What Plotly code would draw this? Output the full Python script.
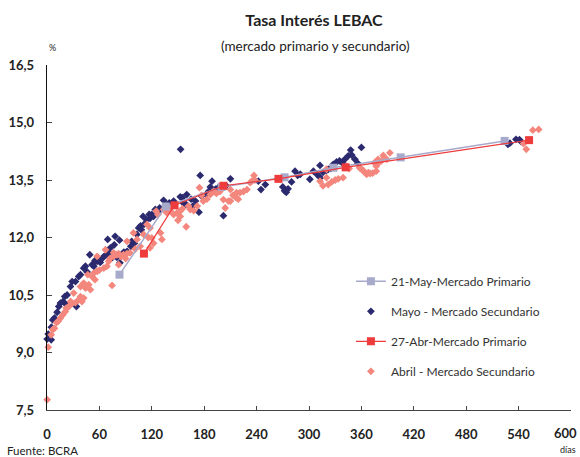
import plotly.graph_objects as go

# ---- Data ----
may_prim_days = [83, 136, 200, 272, 328, 405, 524]
may_prim_rate = [11.03, 12.81, 13.32, 13.57, 13.82, 14.09, 14.52]

abr_prim_days = [111, 146, 202, 265, 342, 552]
abr_prim_rate = [11.58, 12.84, 13.35, 13.53, 13.83, 14.54]

may_sec_days = [0.2, 1.4, 4.8, 5, 6.6, 8.6, 11.6, 13.5, 15.4, 18.5, 20.3, 22, 23, 26.9, 28.8,
                32.6, 33.7, 36.3, 38.3, 42, 44, 46, 49, 51.6, 53.6, 55, 57.4, 61, 63, 65, 68,
                69.5, 70.7, 72.6, 75, 77, 78, 80, 83, 83.5, 86, 88, 91.7, 96, 97, 100, 103,
                105, 107, 108, 110, 111, 114, 117, 118, 120, 122, 124, 127, 129, 133.5, 135.5,
                137.5, 140, 145, 152.6, 153, 155, 156, 159.4, 160, 165, 167, 170, 174, 175.4,
                177, 182, 185, 187, 189, 193, 196, 200, 202, 205, 210, 242, 245, 250, 270, 272,
                274, 276, 280, 284, 287, 290, 301, 305, 309, 312.6, 313, 316, 320, 322, 325,
                327.8, 331.6, 335, 338, 341, 345, 347.7, 349, 352.6, 356, 360, 377, 527.8,
                530, 537, 541, 543]
may_sec_rate = [9.35, 9.48, 9.33, 9.66, 9.85, 9.90, 10.05, 10.20, 10.29, 10.33, 10.46, 10.25,
                10.50, 10.72, 10.85, 10.85, 10.20, 10.98, 11.03, 11.20, 11.25, 11.10, 11.55,
                11.29, 11.25, 11.40, 11.38, 11.35, 11.45, 11.50, 11.55, 11.95, 11.60, 11.73,
                11.48, 11.81, 12.03, 11.48, 11.93, 11.34, 11.55, 11.62, 11.64, 11.77, 11.90,
                11.85, 12.08, 12.25, 12.30, 12.20, 12.55, 12.34, 12.46, 12.60, 12.50, 12.60,
                12.55, 12.73, 12.68, 12.77, 12.97, 12.82, 12.86, 12.90, 12.95, 13.06, 14.30,
                13.04, 12.90, 12.86, 13.12, 13.00, 12.82, 12.95, 12.66, 13.62, 13.08, 13.12,
                13.20, 13.32, 13.47, 13.26, 13.30, 13.32, 12.57, 13.35, 13.53, 13.47, 13.25,
                13.38, 13.32, 13.22, 13.18, 13.27, 13.45, 13.73, 13.62, 13.65, 13.52, 13.73,
                13.65, 13.88, 13.56, 13.70, 13.75, 13.78, 13.80, 13.91, 13.97, 14.00, 13.95,
                14.04, 14.13, 14.28, 14.15, 14.04, 13.93, 14.35, 13.93, 14.43, 14.46, 14.56,
                14.55, 14.50]

abr_sec_days = [0.2, 1.4, 4.8, 6.6, 8.6, 11, 13, 15.4, 18, 21, 22, 25, 27, 29, 30.6, 32.6, 36,
                38.3, 38.3, 40, 42, 42, 44, 46.7, 47.8, 49.7, 51.6, 53.5, 55, 57.4, 57.4, 60,
                65, 67, 68.6, 70.7, 72, 74.5, 76.3, 76.3, 80, 82, 82, 85, 87.6, 90, 91.6, 91.6,
                95, 99, 101, 103, 106.7, 110.6, 114.5, 116, 118, 118, 120, 122, 125, 127, 130,
                131.6, 133.5, 137, 141, 145, 148.8, 150, 152, 152.6, 155, 159.4, 162, 164, 168,
                172, 174.6, 177, 179, 183, 187, 190.6, 194, 198, 202, 204, 207.8, 210, 210, 213,
                216.6, 217, 219, 221, 225, 229, 232.6, 234.5, 237, 238, 312.6, 316, 320, 320,
                322, 326, 330, 333.5, 339, 343, 346, 358, 360, 362, 364, 366, 368, 370, 373,
                375, 377, 377, 379, 379, 383, 385, 389, 392.6, 545.7, 548.8, 556.3, 563]
abr_sec_rate = [7.77, 9.14, 9.46, 9.60, 9.63, 9.78, 9.82, 9.90, 9.98, 10.07, 10.16, 10.20,
                10.33, 10.28, 10.55, 10.30, 10.37, 10.46, 10.72, 10.33, 10.42, 10.81, 10.68,
                11.03, 10.77, 10.64, 10.98, 11.07, 10.90, 11.51, 11.12, 11.15, 11.20, 11.68,
                11.25, 11.38, 11.45, 10.75, 11.51, 11.60, 11.55, 11.29, 11.58, 11.50, 11.55,
                11.45, 11.90, 11.58, 11.60, 12.12, 11.70, 11.95, 11.77, 12.08, 12.34, 12.00,
                12.25, 11.73, 11.99, 11.85, 12.69, 12.60, 12.12, 11.95, 12.73, 12.65, 12.71,
                12.60, 12.64, 12.45, 12.68, 12.55, 12.75, 12.28, 12.82, 12.73, 12.70, 12.82,
                13.30, 13.10, 12.95, 13.00, 13.12, 13.20, 13.15, 13.20, 12.99, 12.77, 12.95,
                13.25, 12.95, 13.10, 13.04, 13.17, 13.00, 13.17, 13.20, 13.25, 13.43, 13.47,
                13.62, 13.50, 13.47, 13.35, 13.56, 13.78, 13.38, 13.45, 13.50, 13.53, 13.56,
                13.86, 13.80, 13.82, 13.78, 13.75, 13.69, 13.65, 13.69, 13.67, 13.68, 13.95,
                13.73, 13.86, 14.04, 13.93, 14.00, 14.14, 14.04, 14.21, 14.45, 14.30, 14.80,
                14.82]

x_ticks = list(range(0, 601, 60))
x_tick_text = [str(v) for v in x_ticks[:-1]] + [""]   # last label placed as annotation
x_last_label = str(x_ticks[-1])
y_ticks = [7.5, 9.0, 10.5, 12.0, 13.5, 15.0, 16.5]

NAVY = "#2C2A6E"
SALMON = "#F4877D"
RED = "#EE3B3B"
LAVENDER = "#A7AACB"
FONT = "Lato"

fig = go.Figure()

fig.add_trace(go.Scatter(
    x=may_sec_days, y=may_sec_rate, mode="markers", name="Mayo - Mercado Secundario",
    marker=dict(symbol="diamond", size=6, color=NAVY),
    legendgroup="b", legendrank=2, cliponaxis=False))
fig.add_trace(go.Scatter(
    x=abr_sec_days, y=abr_sec_rate, mode="markers", name="Abril - Mercado Secundario",
    marker=dict(symbol="diamond", size=6, color=SALMON),
    legendgroup="d", legendrank=4, cliponaxis=False))
fig.add_trace(go.Scatter(
    x=may_prim_days, y=may_prim_rate, mode="lines+markers", name="21-May-Mercado Primario",
    line=dict(color=LAVENDER, width=1.5),
    marker=dict(symbol="square", size=8, color=LAVENDER),
    legendgroup="a", legendrank=1))
fig.add_trace(go.Scatter(
    x=abr_prim_days, y=abr_prim_rate, mode="lines+markers", name="27-Abr-Mercado Primario",
    line=dict(color=RED, width=1.2),
    marker=dict(symbol="square", size=8, color=RED),
    legendgroup="c", legendrank=3))

W, H = 580, 457
fig.update_layout(
    width=W, height=H,
    margin=dict(l=47, r=9, t=65, b=47, autoexpand=False),
    paper_bgcolor="white", plot_bgcolor="white",
    separators=",.",
    font=dict(family=FONT, color="#222"),
    title=dict(text="<b>Tasa Interés LEBAC</b>", x=314 / W, xanchor="center",
               y=1 - 20 / H, yanchor="middle", font=dict(family=FONT, size=16, color="#222")),
    showlegend=True,
    legend=dict(x=0.58, xanchor="left", y=0.415, yanchor="top",
                font=dict(family=FONT, size=12, color="#333"),
                itemwidth=30, tracegroupgap=11, bgcolor="rgba(0,0,0,0)",
                traceorder="grouped"),
    xaxis=dict(range=[0, 600], tickvals=x_ticks, ticktext=x_tick_text, ticks="inside",
               ticklen=4, tickcolor="#444", showline=True, linecolor="#444", linewidth=1.3,
               showgrid=False, zeroline=False, ticklabelstandoff=12, automargin=False,
               tickfont=dict(family=FONT, size=13, color="#222", weight="bold")),
    yaxis=dict(range=[7.5, 16.5], tickvals=y_ticks, tickformat=".1f", ticks="inside",
               ticklen=5, tickcolor="#444", showline=True, linecolor="#111", linewidth=1.3,
               showgrid=False, zeroline=False, ticklabelstandoff=9, automargin=False,
               tickfont=dict(family=FONT, size=13, color="#222", weight="bold")),
    annotations=[
        dict(text="(mercado primario y secundario)", xref="paper", yref="paper",
             x=(315 - 47) / 524, y=1.0 + (65 - 46) / 345, xanchor="center", yanchor="middle",
             showarrow=False, font=dict(family=FONT, size=13.5, color="#222")),
        dict(text="%", xref="paper", yref="paper", x=0.0, y=1.0 + (65 - 47) / 345,
             xanchor="left", yanchor="middle", showarrow=False,
             font=dict(family=FONT, size=9, color="#222")),
        dict(text="<b>" + x_last_label + "</b>", xref="paper", yref="paper",
             x=1.0 + 8 / 524, y=-(433 - 410) / 345, xanchor="right", yanchor="middle",
             showarrow=False, font=dict(family=FONT, size=13, color="#222")),
        dict(text="días", xref="paper", yref="paper", x=1.0 + 7 / 524,
             y=-(449 - 410) / 345, xanchor="right", yanchor="middle", showarrow=False,
             font=dict(family=FONT, size=9, color="#222")),
        dict(text="Fuente: BCRA", xref="paper", yref="paper", x=-(47 - 5) / 524,
             y=-(451 - 410) / 345, xanchor="left", yanchor="middle", showarrow=False,
             font=dict(family=FONT, size=11.5, color="#222")),
    ],
)

# Remove the page's default 8 px body margin so the figure fills the window.
fig.write_html("out.html",
               config={"displayModeBar": False, "staticPlot": True},
               post_script="document.body.style.margin='0';document.body.style.overflow='hidden';")
